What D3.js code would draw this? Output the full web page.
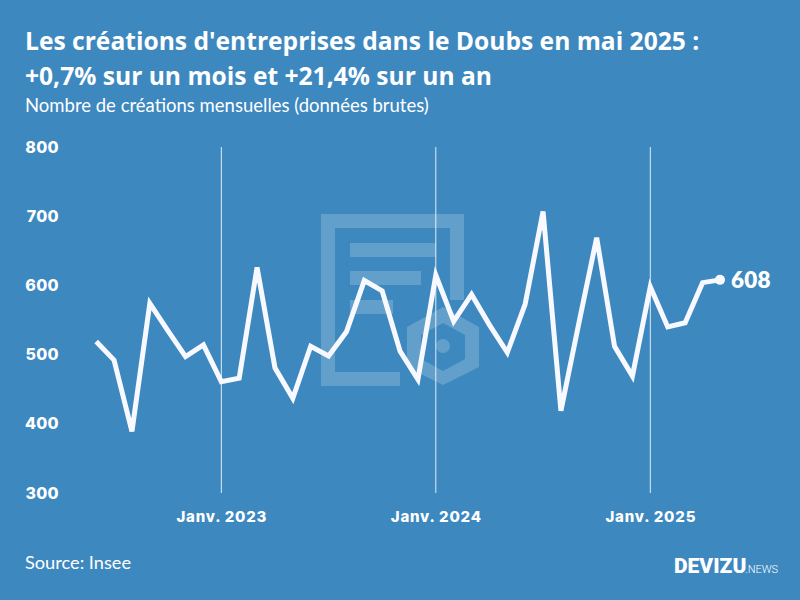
<!DOCTYPE html>
<html>
<head>
<meta charset="utf-8">
<script src="https://cdn.jsdelivr.net/npm/d3@7"></script>
<style>
  html, body { margin: 0; padding: 0; background: #3d88bf; }
  svg { display: block; }
  text { fill: #fff; }
</style>
</head>
<body>
<svg id="chart" width="800" height="600"></svg>
<script>
const monthIndex = d3.range(36); // juin 2022 -> mai 2025
const creations = [
  519, 492, 389, 574, 535, 497, 514, 461, 466, 626, 481, 437,
  512, 498, 533, 607, 592, 505, 464, 615, 548, 587, 543, 503,
  573, 707, 419, 545, 669, 512, 469, 598, 540, 546, 604, 608
];
const yTicks = [300, 400, 500, 600, 700, 800];
const januaryIndex = [7, 19, 31];
const januaryLabels = ['Janv. 2023', 'Janv. 2024', 'Janv. 2025'];

const x = d3.scaleLinear().domain([0, 31, 35]).range([96.2, 650.3, 720]);
const y = d3.scaleLinear().domain([300, 800]).range([493, 147]);

const svg = d3.select('#chart');
const white = '#f8f8ff';

svg.append('rect').attr('width', 800).attr('height', 600).attr('fill', '#3d88bf');

// filigrane derriere la courbe
const mark = svg.append('g').attr('fill', '#fff').attr('fill-opacity', 0.2);
mark.append('path')
  .attr('fill-rule', 'evenodd')
  .attr('d', 'M321 214H464V300H450V228H335V372H400V386H321Z');
mark.append('rect').attr('x', 350).attr('y', 243).attr('width', 86).attr('height', 14);
mark.append('rect').attr('x', 350).attr('y', 271).attr('width', 71).attr('height', 14);
mark.append('rect').attr('x', 350).attr('y', 300).attr('width', 43).attr('height', 14);
mark.append('path')
  .attr('fill-rule', 'evenodd')
  .attr('d', 'M443 307L479 327V367L443 385L407 367V327ZM443 323L421 335V359L443 371L465 359V335Z');
mark.append('circle').attr('cx', 443).attr('cy', 346).attr('r', 7);

svg.selectAll('.grid')
  .data(januaryIndex)
  .join('line')
  .attr('class', 'grid')
  .attr('x1', (d) => x(d))
  .attr('x2', (d) => x(d))
  .attr('y1', y(800))
  .attr('y2', y(300))
  .attr('stroke', '#fff')
  .attr('stroke-opacity', 0.85)
  .attr('stroke-width', 1);

const yAxis = d3.axisLeft(y).tickValues(yTicks).tickSize(0).tickPadding(0);
svg.append('g')
  .attr('transform', 'translate(59,0)')
  .call(yAxis)
  .call((g) => g.select('.domain').remove())
  .selectAll('text')
  .attr('font-family', 'Inter')
  .attr('font-weight', 800)
  .attr('font-size', 16)
  .attr('letter-spacing', 0.3)
  .attr('fill', white);

const xAxis = d3.axisBottom(x)
  .tickValues(januaryIndex)
  .tickFormat((d, i) => januaryLabels[i])
  .tickSize(0)
  .tickPadding(0);
svg.append('g')
  .attr('transform', 'translate(0,511)')
  .call(xAxis)
  .call((g) => g.select('.domain').remove())
  .selectAll('text')
  .attr('font-family', 'Inter')
  .attr('font-weight', 800)
  .attr('font-size', 15)
  .attr('letter-spacing', 0.8)
  .attr('fill', white);

const line = d3.line()
  .x((d) => x(d))
  .y((d) => y(creations[d]));

svg.append('path')
  .attr('d', line(monthIndex))
  .attr('fill', 'none')
  .attr('stroke', white)
  .attr('stroke-width', 5)
  .attr('stroke-linejoin', 'miter')
  .attr('stroke-miterlimit', 4);

const lastIndex = monthIndex[monthIndex.length - 1];
svg.append('circle')
  .attr('cx', x(lastIndex))
  .attr('cy', y(creations[lastIndex]))
  .attr('r', 5)
  .attr('fill', white);

svg.append('text')
  .attr('x', x(lastIndex) + 11)
  .attr('y', y(creations[lastIndex]))
  .attr('dy', '0.35em')
  .attr('font-family', 'Lato')
  .attr('font-weight', 800)
  .attr('font-size', 22.5)
  .attr('letter-spacing', 0.2)
  .attr('fill', white)
  .text(creations[lastIndex]);

// titres
svg.append('text').attr('x', 25).attr('y', 50)
  .attr('font-family', 'Open Sans').attr('font-weight', 700).attr('font-size', 24.6)
  .text("Les créations d'entreprises dans le Doubs en mai 2025 :");
svg.append('text').attr('x', 25).attr('y', 85)
  .attr('font-family', 'Open Sans').attr('font-weight', 700).attr('font-size', 24.6)
  .text('+0,7% sur un mois et +21,4% sur un an');
svg.append('text').attr('x', 25).attr('y', 112)
  .attr('font-family', 'Lato').attr('font-weight', 400).attr('font-size', 18.5)
  .attr('fill', '#eef4fa')
  .text('Nombre de créations mensuelles (données brutes)');

svg.append('text').attr('x', 25).attr('y', 569)
  .attr('font-family', 'Lato').attr('font-weight', 400).attr('font-size', 18.2)
  .attr('fill', '#e4eef6')
  .text('Source: Insee');

// logo
svg.append('text').attr('x', 674).attr('y', 573)
  .attr('font-family', 'Roboto').attr('font-weight', 900).attr('font-size', 21)
  .text('DEVIZU');
svg.append('text').attr('x', 745).attr('y', 573)
  .attr('font-family', 'Roboto').attr('font-weight', 300).attr('font-size', 11)
  .text('.NEWS');
</script>
</body>
</html>
